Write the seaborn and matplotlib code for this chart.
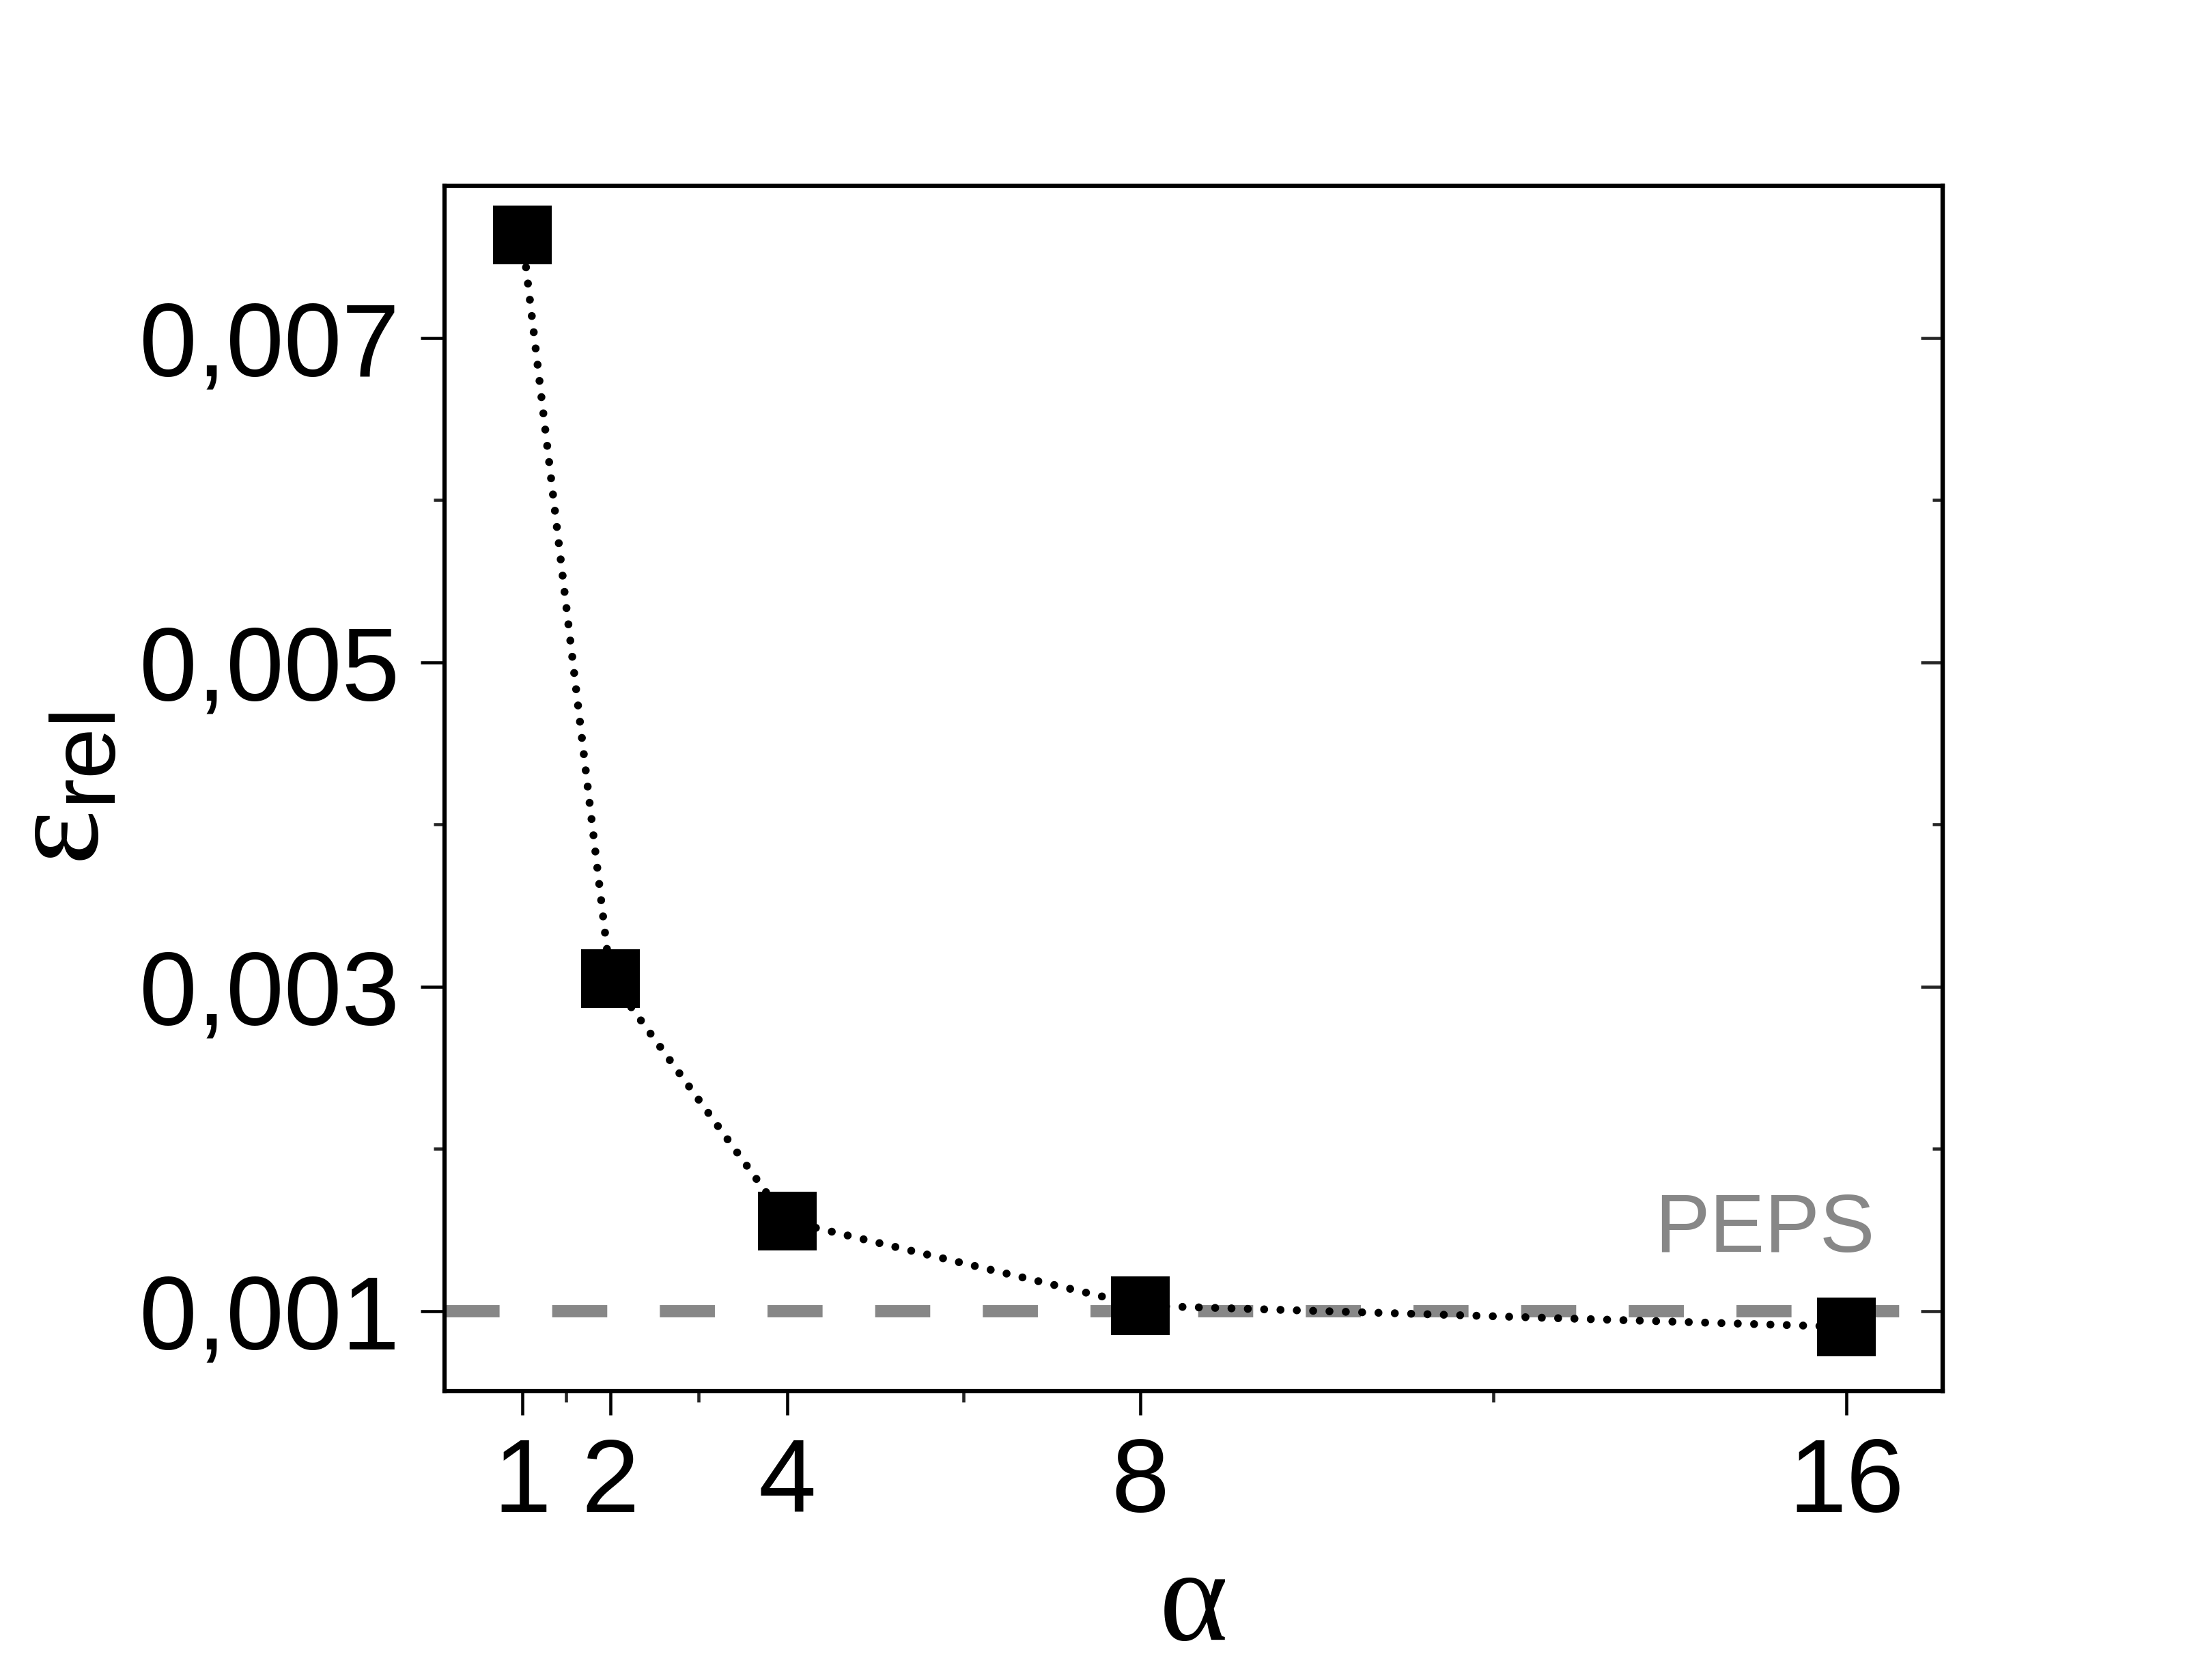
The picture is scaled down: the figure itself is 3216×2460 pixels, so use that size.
import numpy as np
import pandas as pd
import matplotlib
matplotlib.use('Agg')
import matplotlib.pyplot as plt
import seaborn as sns
from matplotlib.ticker import FixedLocator, FuncFormatter

# data
alpha = [1, 2, 4, 8, 16]
eps_rel = [0.007636, 0.00305, 0.001556, 0.001034, 0.000903]
peps_level = 0.001
x_major = [1, 2, 4, 8, 16]
x_minor = [1.5, 3, 6, 12]
y_major = [0.001, 0.003, 0.005, 0.007]
y_minor = [0.002, 0.004, 0.006]

df = pd.DataFrame({'alpha': alpha, 'eps': eps_rel})

sns.set_style('ticks')
plt.rcParams['font.family'] = ['Liberation Sans', 'DejaVu Sans']
plt.rcParams['text.color'] = 'black'
plt.rcParams['axes.labelcolor'] = 'black'
plt.rcParams['mathtext.fontset'] = 'custom'
plt.rcParams['mathtext.rm'] = 'Liberation Serif'
plt.rcParams['mathtext.sf'] = 'Liberation Sans'
plt.rcParams['mathtext.it'] = 'Liberation Serif:italic'

fig = plt.figure(figsize=(10.72, 8.2033), dpi=300)
ax = fig.add_axes([0.2024, 0.1719, 0.6823, 0.7172])

# PEPS reference level
ax.axhline(peps_level, color='#878787', lw=4.3, dashes=(4.5, 4.3), zorder=1)

sns.lineplot(data=df, x='alpha', y='eps', ax=ax, color='black', lw=2.8,
             marker='s', markersize=20.6, markeredgewidth=0,
             markerfacecolor='black', zorder=3)
line = ax.lines[-1]
line.set_dashes((0.001, 2.05))
line.set_dash_capstyle('round')

ax.text(16.32, 0.00137, 'PEPS', color='#878787', fontsize=29,
        ha='right', va='baseline')

ax.set_xlim(0.12, 17.09)
ax.set_ylim(0.000507, 0.007939)
ax.xaxis.set_major_locator(FixedLocator(x_major))
ax.xaxis.set_minor_locator(FixedLocator(x_minor))
ax.yaxis.set_major_locator(FixedLocator(y_major))
ax.yaxis.set_minor_locator(FixedLocator(y_minor))
ax.yaxis.set_major_formatter(FuncFormatter(lambda v, p: f'{v:.3f}'.replace('.', ',')))
ax.xaxis.set_major_formatter(FuncFormatter(lambda v, p: f'{v:g}'))

for s in ax.spines.values():
    s.set_linewidth(1.5)
    s.set_color('black')
    s.set_visible(True)

ax.tick_params(which='major', direction='out', length=8.3, width=1.1,
               labelsize=36.5, pad=7.5, colors='black')
ax.tick_params(which='minor', direction='out', length=3.8, width=1.1)
ax.tick_params(top=False, right=False)

# inward ticks on the right side
sec = ax.secondary_yaxis('right')
sec.yaxis.set_major_locator(FixedLocator(y_major))
sec.yaxis.set_minor_locator(FixedLocator(y_minor))
sec.tick_params(which='major', direction='in', length=7.7, width=1.1, labelright=False)
sec.tick_params(which='minor', direction='in', length=3.6, width=1.1)
sec.spines['right'].set_linewidth(1.5)

ax.set_xlabel('α', family=['Liberation Serif', 'DejaVu Serif'], fontsize=46,
              labelpad=5, color='black')
ax.set_ylabel(r'$\mathrm{\varepsilon}_{\mathsf{rel}}$', fontsize=46, labelpad=5,
              color='black')

fig.savefig('out.png', dpi=300)
